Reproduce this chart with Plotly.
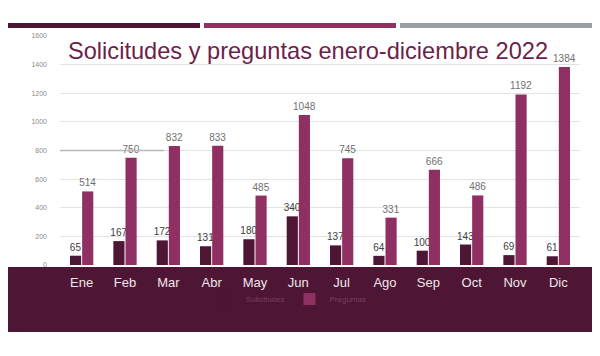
import plotly.graph_objects as go

meses = ["Ene", "Feb", "Mar", "Abr", "May", "Jun", "Jul", "Ago", "Sep", "Oct", "Nov", "Dic"]
solicitudes = [65, 167, 172, 131, 180, 340, 137, 64, 100, 143, 69, 61]
preguntas = [514, 750, 832, 833, 485, 1048, 745, 331, 666, 486, 1192, 1384]

DARK = "#4d1634"
PINK = "#8f2f62"
FONT = "Liberation Sans, Arial, sans-serif"

fig = go.Figure()
fig.add_trace(go.Bar(
    name="Solicitudes", x=meses, y=solicitudes, marker=dict(color=DARK, line_width=0),
    text=solicitudes, textposition="outside", constraintext="none",
    textfont=dict(size=10, color="#404040", family=FONT), cliponaxis=False,
))
fig.add_trace(go.Bar(
    name="Preguntas", x=meses, y=preguntas, marker=dict(color=PINK, line_width=0),
    text=preguntas, textposition="outside", constraintext="none",
    textfont=dict(size=10, color="#707070", family=FONT), cliponaxis=False,
))

shapes = [
    dict(type="rect", xref="paper", yref="paper", x0=-0.1038, x1=1.0269,
         y0=-0.2926, y1=-0.0087, fillcolor="#4e1634", line_width=0, layer="below"),
    dict(type="rect", xref="paper", yref="paper", x0=-0.1038, x1=0.2692,
         y0=1.035, y1=1.057, fillcolor="#4e1634", line_width=0),
    dict(type="rect", xref="paper", yref="paper", x0=0.2769, x1=0.6462,
         y0=1.035, y1=1.057, fillcolor="#8f2f62", line_width=0),
    dict(type="rect", xref="paper", yref="paper", x0=0.6538, x1=1.0269,
         y0=1.035, y1=1.057, fillcolor="#979ea4", line_width=0),
    dict(type="line", xref="paper", yref="y", x0=0.0, x1=0.2, y0=800, y1=800,
         line=dict(color="#b8b8b8", width=1.5)),
]

fig.update_layout(
    width=600, height=356,
    margin=dict(l=52, r=28, t=28, b=99, autoexpand=False),
    paper_bgcolor="white", plot_bgcolor="white",
    barmode="group", bargap=0.44, bargroupgap=0.08,
    font=dict(family=FONT),
    shapes=shapes,
    showlegend=True,
    legend=dict(orientation="h", x=0.44, xanchor="center", y=-0.085, yanchor="top",
                font=dict(size=8, color="#7a3f5c", family=FONT),
                bgcolor="rgba(0,0,0,0)", itemwidth=30, tracegroupgap=0),
    annotations=[dict(text="Solicitudes y preguntas enero-diciembre 2022",
                      xref="paper", yref="paper", x=0.477, y=0.935,
                      xanchor="center", yanchor="middle", showarrow=False,
                      font=dict(size=23.6, color="#6d1f4b", family=FONT))],
    xaxis=dict(tickfont=dict(size=13, color="#f0e6ea", family=FONT),
               showline=False, ticks="", ticklabelstandoff=8),
    yaxis=dict(range=[0, 1600], dtick=200, showgrid=True, gridcolor="#e3e3e3",
               gridwidth=1, zeroline=False,
               tickfont=dict(size=7, color="#8a8a8a", family=FONT), ticklabelstandoff=12),
)

fig.write_html("out.html")
